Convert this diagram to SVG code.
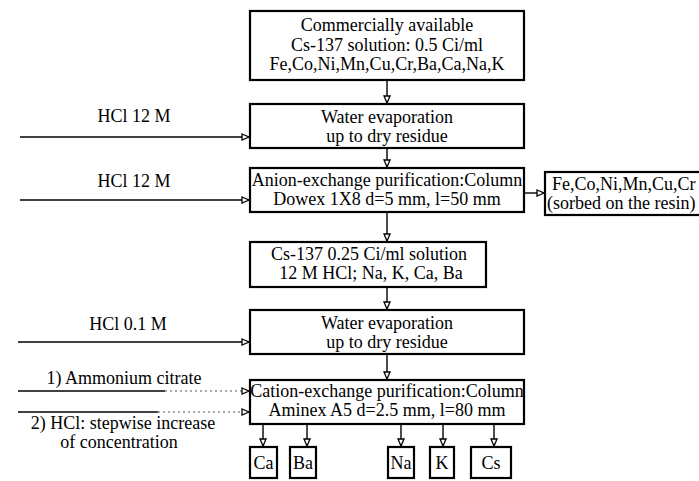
<svg xmlns="http://www.w3.org/2000/svg" width="699" height="481" viewBox="0 0 699 481">
<defs>
<marker id="ah" markerWidth="10" markerHeight="10" refX="8" refY="4" orient="auto" markerUnits="userSpaceOnUse">
<path d="M1,1 L8,4 L1,7 Z" fill="#fff" stroke="#000" stroke-width="1.3"/>
</marker>
<style>
.box{fill:#fff;stroke:#000;stroke-width:2.2}
.t{font-family:"Liberation Serif","Times New Roman",serif;font-size:18px;fill:#000}
.m{text-anchor:middle}
.ln{stroke:#000;stroke-width:1.4;fill:none}
.ar{stroke:#000;stroke-width:1.4;fill:none;marker-end:url(#ah)}
.dt{stroke:#555;stroke-width:1;stroke-dasharray:2 3;fill:none;marker-end:url(#ah)}
</style>
</defs>
<rect width="699" height="481" fill="#fff"/>
<g id="connectors">
<line class="ar" x1="387" y1="80" x2="387" y2="103"/>
<line class="ar" x1="387" y1="148" x2="387" y2="167"/>
<line class="ar" x1="387" y1="212" x2="387" y2="241"/>
<line class="ar" x1="387" y1="287" x2="387" y2="309"/>
<line class="ar" x1="387" y1="354" x2="387" y2="379"/>
<line class="ar" x1="524" y1="193" x2="544" y2="193"/>
<line class="ar" x1="20" y1="137" x2="249" y2="137"/>
<line class="ar" x1="20" y1="200" x2="249" y2="200"/>
<line class="ar" x1="18" y1="342" x2="249" y2="342"/>
<line class="ln" x1="18" y1="391" x2="165" y2="391"/>
<line class="dt" x1="165" y1="391" x2="249" y2="391"/>
<line class="ln" x1="18" y1="412" x2="158" y2="412"/>
<line class="dt" x1="158" y1="412" x2="249" y2="412"/>
<line class="ar" x1="263" y1="424" x2="263" y2="446"/>
<line class="ar" x1="307" y1="424" x2="307" y2="446"/>
<line class="ar" x1="401" y1="424" x2="401" y2="446"/>
<line class="ar" x1="443" y1="424" x2="443" y2="446"/>
<line class="ar" x1="494" y1="424" x2="494" y2="446"/>
</g>
<g id="labels">
<text class="t m" x="134" y="122">HCl 12 M</text>
<text class="t m" x="134" y="187">HCl 12 M</text>
<text class="t m" x="128" y="330">HCl 0.1 M</text>
<text class="t m" x="124" y="384">1) Ammonium citrate</text>
<text class="t m" x="123" y="429">2) HCl: stepwise increase</text>
<text class="t m" x="119" y="448">of concentration</text>
</g>
<g id="n1">
<rect class="box" x="250" y="11" width="274" height="69"/>
<text class="t m" x="387" y="31">Commercially available</text>
<text class="t m" x="387" y="51">Cs-137 solution: 0.5 Ci/ml</text>
<text class="t m" x="387" y="70">Fe,Co,Ni,Mn,Cu,Cr,Ba,Ca,Na,K</text>
</g>
<g id="n2">
<rect class="box" x="250" y="104" width="274" height="44"/>
<text class="t m" x="387" y="123">Water evaporation</text>
<text class="t m" x="387" y="142">up to dry residue</text>
</g>
<g id="n3">
<rect class="box" x="250" y="168" width="274" height="44"/>
<text class="t m" x="387" y="186">Anion-exchange purification:Column</text>
<text class="t m" x="387" y="205">Dowex 1X8 d=5 mm, l=50 mm</text>
</g>
<g id="n4">
<rect class="box" x="545" y="172" width="170" height="43"/>
<text class="t" x="552" y="190">Fe,Co,Ni,Mn,Cu,Cr</text>
<text class="t" x="547" y="209">(sorbed on the resin)</text>
</g>
<g id="n5">
<rect class="box" x="250" y="242" width="236" height="45"/>
<text class="t m" x="369" y="260">Cs-137 0.25 Ci/ml solution</text>
<text class="t m" x="371" y="279">12 M HCl; Na, K, Ca, Ba</text>
</g>
<g id="n6">
<rect class="box" x="250" y="310" width="274" height="44"/>
<text class="t m" x="387" y="329">Water evaporation</text>
<text class="t m" x="387" y="348">up to dry residue</text>
</g>
<g id="n7">
<rect class="box" x="250" y="380" width="274" height="44"/>
<text class="t m" x="387" y="397">Cation-exchange purification:Column</text>
<text class="t m" x="387" y="416">Aminex A5 d=2.5 mm, l=80 mm</text>
</g>
<g id="ca"><rect class="box" x="250" y="447" width="27" height="31"/><text class="t m" x="263.5" y="469">Ca</text></g>
<g id="ba"><rect class="box" x="290" y="447" width="26" height="31"/><text class="t m" x="303" y="469">Ba</text></g>
<g id="na"><rect class="box" x="388" y="447" width="26" height="31"/><text class="t m" x="401" y="469">Na</text></g>
<g id="k"><rect class="box" x="430" y="447" width="24" height="31"/><text class="t m" x="442" y="469">K</text></g>
<g id="cs"><rect class="box" x="471" y="447" width="40" height="31"/><text class="t m" x="491" y="469">Cs</text></g>
</svg>
